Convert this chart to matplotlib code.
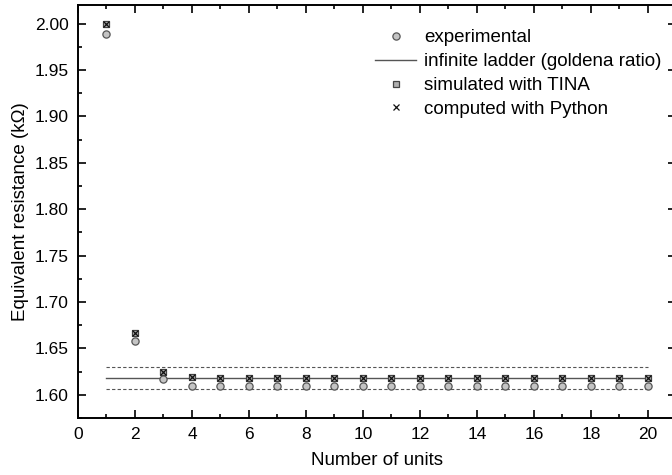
import matplotlib
matplotlib.use("Agg")
import matplotlib.pyplot as plt
from matplotlib.ticker import MultipleLocator

plt.rcParams['font.family'] = ['Liberation Sans', 'DejaVu Sans']

units = list(range(1, 21))
experimental = [1.989, 1.658, 1.617, 1.610, 1.610, 1.610, 1.610, 1.610, 1.610, 1.610,
                1.610, 1.610, 1.610, 1.610, 1.610, 1.610, 1.610, 1.610, 1.610, 1.610]
simulated = [2.000, 1.667, 1.625, 1.619, 1.618, 1.618, 1.618, 1.618, 1.618, 1.618,
             1.618, 1.618, 1.618, 1.618, 1.618, 1.618, 1.618, 1.618, 1.618, 1.618]
computed = [2.000, 1.667, 1.625, 1.619, 1.618, 1.618, 1.618, 1.618, 1.618, 1.618,
            1.618, 1.618, 1.618, 1.618, 1.618, 1.618, 1.618, 1.618, 1.618, 1.618]
golden = 1.618
band_upper = 1.630
band_lower = 1.606
line_x = [1, 20]

fig = plt.figure(figsize=(6.72, 4.75), dpi=100)
ax = fig.add_axes([0.116, 0.12, 0.8906, 0.8695])

ax.plot(line_x, [band_upper, band_upper], ls=(0, (3, 2)), color='#555555', lw=0.8)
ax.plot(line_x, [band_lower, band_lower], ls=(0, (3, 2)), color='#555555', lw=0.8)
ax.plot(line_x, [golden, golden], color='#555555', lw=1.0,
        label='infinite ladder (goldena ratio)', zorder=2)
ax.plot(units, experimental, 'o', ms=5.2, mfc='#c4c4c4', mec='#555555', mew=0.9,
        label='experimental', zorder=3)
ax.plot(units, simulated, 's', ms=4.0, mfc='#b0b0b0', mec='#444444', mew=0.9,
        label='simulated with TINA', zorder=4)
ax.plot(units, computed, 'x', ms=4.8, color='#111111', mew=0.9,
        label='computed with Python', zorder=5)

ax.set_xlim(0, 21)
ax.set_ylim(1.575, 2.02)
ax.xaxis.set_major_locator(MultipleLocator(2))
ax.xaxis.set_minor_locator(MultipleLocator(1))
ax.yaxis.set_major_locator(MultipleLocator(0.05))
ax.yaxis.set_minor_locator(MultipleLocator(0.025))
ax.yaxis.set_major_formatter(matplotlib.ticker.FormatStrFormatter('%.2f'))
ax.tick_params(which='both', direction='in', top=True, right=True, labelsize=12.5, width=1.2)
ax.tick_params(which='major', length=6, pad=6.5)
ax.tick_params(which='minor', length=3)
for s in ax.spines.values():
    s.set_linewidth(1.4)

ax.set_xlabel('Number of units', fontsize=13.5, labelpad=7)
ax.set_ylabel('Equivalent resistance (kΩ)', fontsize=13.5, labelpad=4)

handles, labels = ax.get_legend_handles_labels()
order = [labels.index(l) for l in ['experimental', 'infinite ladder (goldena ratio)',
                                    'simulated with TINA', 'computed with Python']]
leg = ax.legend([handles[i] for i in order], [labels[i] for i in order],
                loc='upper right', bbox_to_anchor=(1.003, 0.982), frameon=False,
                fontsize=13.5, handlelength=2.2, handletextpad=0.4,
                labelspacing=0.36, markerscale=1.0)

fig.savefig('out.png', dpi=100)
